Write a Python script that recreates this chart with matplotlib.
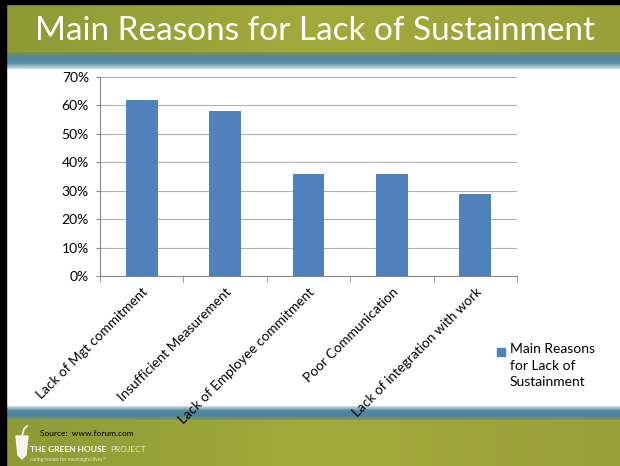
import matplotlib
matplotlib.use("Agg")
import numpy as np
import matplotlib.pyplot as plt
from matplotlib.patches import Rectangle, Polygon
from matplotlib.ticker import PercentFormatter
from matplotlib.colors import LinearSegmentedColormap

categories = ['Lack of Mgt commitment', 'Insufficient Measurement',
              'Lack of Employee commitment', 'Poor Communication',
              'Lack of integration with work']
values = [62, 58, 36, 36, 29]
series_name = 'Main Reasons for Lack of Sustainment'
yticks = [0, 10, 20, 30, 40, 50, 60, 70]
bar_color = '#4f81bd'

plt.rcParams['font.family'] = ['Lato', 'DejaVu Sans']

W, H = 620, 466
fig = plt.figure(figsize=(6.2, 4.66), dpi=100)
fig.patch.set_facecolor('white')

bg = fig.add_axes([0, 0, 1, 1])

# olive title band with slight gradient
grad = np.linspace(0, 1, 256).reshape(1, -1)
olive = LinearSegmentedColormap.from_list('ol', ['#8f9a35', '#a3aa3c', '#9aa039'])
bg.imshow(grad, extent=(0, W, 52, 4), cmap=olive, aspect='auto')
blue = LinearSegmentedColormap.from_list('bl', ['#7e8f4a', '#4f86a0', '#5a8fa8', '#cfdde4'])
bg.imshow(np.linspace(0, 1, 64).reshape(-1, 1), extent=(0, W, 69, 52), cmap=blue, aspect='auto')
# bottom bands
bg.imshow(np.linspace(0, 1, 64).reshape(-1, 1), extent=(0, W, 420, 406),
          cmap=LinearSegmentedColormap.from_list('b2', ['#d8e2e6', '#5188a2', '#4d82a0', '#7f9a4c']), aspect='auto')
bg.imshow(grad, extent=(0, W, 466, 420), cmap=olive, aspect='auto')
bg.set_xlim(0, W)
bg.set_ylim(H, 0)
bg.axis('off')

# black frame edges
bg.add_patch(Rectangle((0, 0), 6, H, color='black', zorder=5))
bg.add_patch(Rectangle((0, 0), W, 4, color='black', zorder=5))

bg.text(315, 31, series_name, color='white', fontsize=24, ha='center', va='center')

# footer
bg.text(40, 433, 'Source:  www.forum.com', fontsize=6, color='black', va='center')
bg.text(30, 449, 'THE GREEN HOUSE', fontsize=6, color='white', weight='bold', va='center')
bg.text(110, 449, 'PROJECT', fontsize=6, color='#e6e9c8', va='center')
bg.text(30, 459, 'caring homes for meaningful lives\u2122', fontsize=3.5, color='#e6e9c8', va='center')
bg.add_patch(Polygon([[16, 436], [28, 436], [26, 455], [22, 459], [18, 455]],
                     closed=True, color='white', alpha=0.9))
bg.plot([22, 24, 27], [436, 429, 426], color='white', lw=1.2)

# legend (square aligned with first text line, as in the original)
bg.add_patch(Rectangle((497, 348), 8, 8, color=bar_color))
bg.text(510, 343, 'Main Reasons\nfor Lack of\nSustainment', fontsize=10, va='top',
        linespacing=1.45, color='black')

ax = fig.add_axes([100 / W, 1 - 276 / H, 417 / W, 199 / H])
x = np.arange(len(categories))
ax.bar(x, values, width=0.38, color=bar_color, label=series_name, zorder=3)
ax.set_xlim(-0.5, len(categories) - 0.5)
ax.set_ylim(0, 70)
ax.set_yticks(yticks)
ax.yaxis.set_major_formatter(PercentFormatter(decimals=0))
ax.grid(axis='y', color='#b0b0b0', lw=0.8, zorder=0)
for s in ['top', 'right']:
    ax.spines[s].set_visible(False)
ax.spines['left'].set_color('#888888')
ax.spines['bottom'].set_color('#888888')
ax.set_xticks(x)
ax.set_xticklabels(categories, rotation=45, ha='right', rotation_mode='anchor', fontsize=9.8)
ax.tick_params(axis='x', length=0, pad=7)
ax.set_xticks(np.arange(-0.5, len(categories)), minor=True)
ax.tick_params(axis='x', which='minor', length=4, color='#888888')
ax.tick_params(axis='y', length=3, color='#888888', labelsize=10, pad=5)

plt.savefig('out.png', dpi=100)
plt.close()
